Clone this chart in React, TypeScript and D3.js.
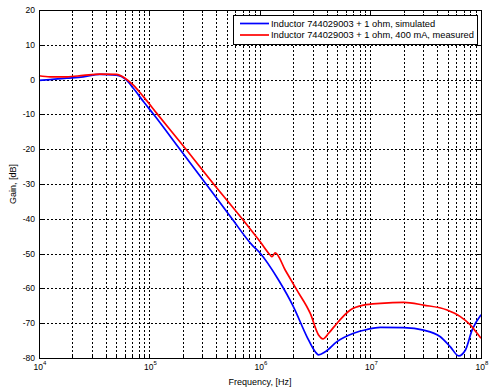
import * as React from 'react';
import { useEffect, useRef } from 'react';
import * as d3 from 'd3';

// simulated curve, Hz / dB
const simFreq = [10000, 12600, 17800, 25100, 35500, 50100, 61700, 71400, 88100, 108400, 186200, 323600,
    555900, 845300, 1004600, 1472000, 2009000, 2661000, 3162000, 3388000, 3899000, 4977000, 7031000, 9290000,
    12270000, 19950000, 30270000, 42850000, 52840000, 62810000, 72280000, 82990000, 100000000];
const simGain = [-0.2, 0.0, 0.4, 0.8, 1.5, 1.3, -0.1, -2.5, -6.3, -9.9, -19.8, -29.9,
    -39.9, -47.5, -49.9, -57.6, -65.3, -73.9, -78.2, -79.1, -78.2, -75.3, -72.9, -71.8,
    -71.2, -71.3, -72.0, -73.9, -76.8, -79.4, -77.7, -72.0, -67.6];

// measured curve, Hz / dB
const measFreq = [10000, 12600, 17800, 25100, 35500, 50100, 60100, 71400, 88100, 116400, 213800, 380200,
    685500, 1004600, 1236000, 1282000, 1374000, 1690000, 2158000, 2851000, 3388000, 3715000, 4178000, 4977000,
    6561000, 8670000, 12270000, 19950000, 30270000, 49320000, 65010000, 80170000, 92260000, 100000000];
const measGain = [1.1, 0.8, 0.8, 1.2, 1.6, 1.5, 0.4, -1.6, -4.9, -9.7, -20.0, -30.0,
    -39.9, -46.6, -50.4, -50.9, -49.8, -54.7, -60.5, -67.2, -73.4, -74.5, -72.9, -70.0,
    -66.2, -64.8, -64.3, -64.0, -64.8, -66.2, -68.1, -70.5, -72.9, -74.3];

const yTicks = [-80, -70, -60, -50, -40, -30, -20, -10, 0, 10, 20];
const xDecades = [4, 5, 6, 7, 8];
const legendLabels = ['Inductor 744029003 + 1 ohm, simulated', 'Inductor 744029003 + 1 ohm, 400 mA, measured'];
const colors = ['#0000ff', '#ff0000'];

const W = 500;
const H = 391;
const margin = { top: 10, right: 19, bottom: 33, left: 39 };
const FONT = '"Liberation Sans", Arial, Helvetica, sans-serif';

export default function App() {
    const ref = useRef<SVGSVGElement>(null);

    useEffect(() => {
        const svg = d3.select(ref.current);
        svg.selectAll('*').remove();

        const x = d3.scaleLog().domain([1e4, 1e8]).range([margin.left, W - margin.right]);
        const y = d3.scaleLinear().domain([-80, 20]).range([H - margin.bottom, margin.top]);
        const [x0, x1] = x.range();
        const [y0, y1] = y.range();

        svg.append('rect').attr('width', W).attr('height', H).attr('fill', '#fff');

        // grid
        const minorX: number[] = [];
        xDecades.slice(0, -1).forEach((d) => {
            for (let k = 1; k < 10; k++) minorX.push(k * Math.pow(10, d));
        });
        const grid = svg.append('g').attr('stroke', '#000').attr('stroke-width', 1)
            .attr('stroke-dasharray', '2,2').attr('shape-rendering', 'crispEdges');
        minorX.filter((v) => v > 1e4).forEach((v) => {
            const px = Math.round(x(v)) + 0.5;
            grid.append('line').attr('x1', px).attr('x2', px).attr('y1', y1).attr('y2', y0);
        });
        yTicks.filter((v) => v > -80 && v < 20).forEach((v) => {
            const py = Math.round(y(v)) + 0.5;
            grid.append('line').attr('x1', x0).attr('x2', x1).attr('y1', py).attr('y2', py);
        });

        // ticks along box edges
        const ticks = svg.append('g').attr('stroke', '#000').attr('stroke-width', 1).attr('shape-rendering', 'crispEdges');
        minorX.concat([1e8]).forEach((v) => {
            const px = Math.round(x(v)) + 0.5;
            const len = Number.isInteger(Math.log10(v)) ? 4 : 2.5;
            ticks.append('line').attr('x1', px).attr('x2', px).attr('y1', y0).attr('y2', y0 - len);
            ticks.append('line').attr('x1', px).attr('x2', px).attr('y1', y1).attr('y2', y1 + len);
        });
        yTicks.forEach((v) => {
            const py = Math.round(y(v)) + 0.5;
            ticks.append('line').attr('x1', x0).attr('x2', x0 + 4).attr('y1', py).attr('y2', py);
            ticks.append('line').attr('x1', x1).attr('x2', x1 - 4).attr('y1', py).attr('y2', py);
        });

        // curves
        const series = [
            { f: simFreq, g: simGain },
            { f: measFreq, g: measGain },
        ];
        const plot = svg.append('g');
        series.forEach((s, i) => {
            const pts = s.f.map((f, j) => [f, s.g[j]] as [number, number]);
            const ln = d3.line<[number, number]>()
                .x((d) => x(d[0]))
                .y((d) => y(d[1]))
                .curve(d3.curveMonotoneX);
            plot.append('path')
                .attr('d', ln(pts))
                .attr('fill', 'none')
                .attr('stroke', colors[i])
                .attr('stroke-width', 1.7)
                .attr('stroke-linejoin', 'round');
        });

        // box
        svg.append('rect')
            .attr('x', x0 + 0.5).attr('y', y1 + 0.5)
            .attr('width', x1 - x0).attr('height', y0 - y1)
            .attr('fill', 'none').attr('stroke', '#000').attr('shape-rendering', 'crispEdges');

        // tick labels
        const labels = svg.append('g').attr('font-family', FONT).attr('fill', '#000');
        yTicks.forEach((v) => {
            labels.append('text')
                .attr('x', x0 - 4).attr('y', y(v))
                .attr('dy', '0.35em')
                .attr('font-size', 8.5)
                .attr('text-anchor', 'end')
                .text(String(v));
        });
        xDecades.forEach((d) => {
            const t = labels.append('text')
                .attr('x', x(Math.pow(10, d)) + 1).attr('y', y0 + 12)
                .attr('font-size', 8.5)
                .attr('text-anchor', 'middle');
            t.append('tspan').text('10');
            t.append('tspan').attr('dy', -5).attr('font-size', 6).text(String(d));
        });

        labels.append('text')
            .attr('x', (x0 + x1) / 2).attr('y', H - 6)
            .attr('font-size', 9)
            .attr('text-anchor', 'middle')
            .text('Frequency, [Hz]');
        labels.append('text')
            .attr('transform', `translate(16, ${(y0 + y1) / 2}) rotate(-90)`)
            .attr('font-size', 9)
            .attr('text-anchor', 'middle')
            .text('Gain, [dB]');

        // legend
        const lg = svg.append('g');
        lg.append('rect')
            .attr('x', 233.5).attr('y', 15.5).attr('width', 244).attr('height', 29)
            .attr('fill', '#fff').attr('stroke', '#000').attr('shape-rendering', 'crispEdges');
        legendLabels.forEach((lab, i) => {
            const ly = 23.5 + i * 11.5;
            lg.append('line')
                .attr('x1', 240).attr('x2', 269).attr('y1', ly).attr('y2', ly)
                .attr('stroke', colors[i]).attr('stroke-width', 1.7);
            lg.append('text')
                .attr('x', 271).attr('y', ly)
                .attr('dy', '0.35em')
                .attr('font-family', FONT).attr('font-size', 9.3)
                .text(lab);
        });
    }, []);

    return (
        <svg ref={ref} width={W} height={H} style={{ position: 'absolute', left: 0, top: 0 }} />
    );
}
